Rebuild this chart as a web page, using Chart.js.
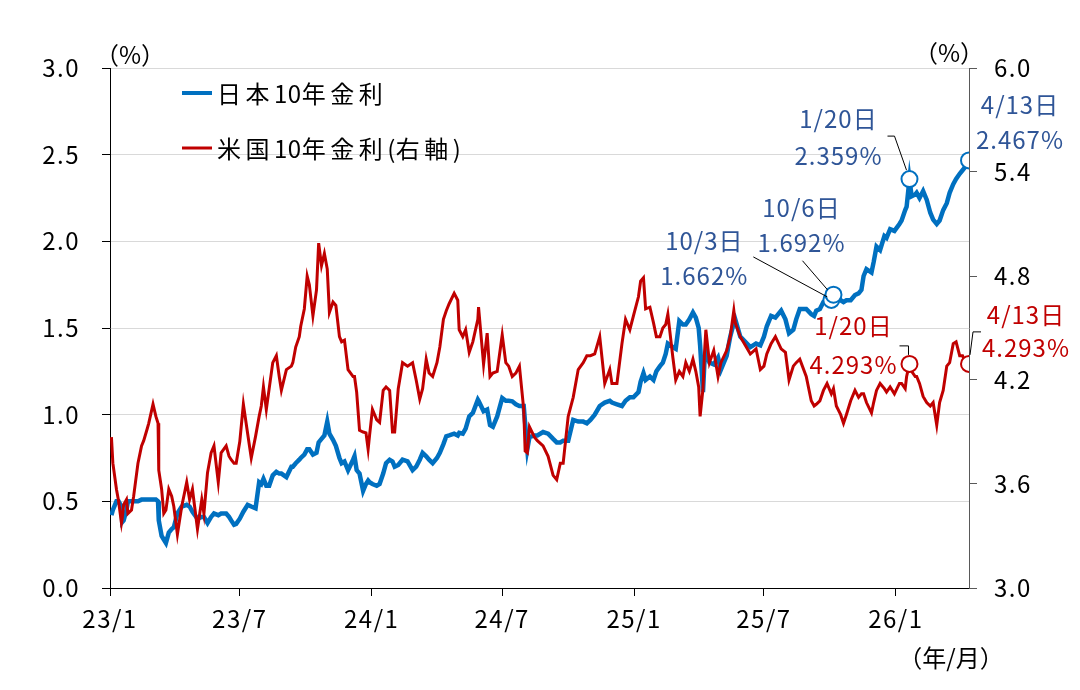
<!DOCTYPE html>
<html lang="ja">
<head>
<meta charset="utf-8">
<title>日米10年金利</title>
<script src="https://cdn.jsdelivr.net/npm/chart.js@4.4.1/dist/chart.umd.min.js"></script>
<style>
  html, body { margin: 0; padding: 0; background: #fff; }
  #wrap { width: 1080px; height: 690px; }
</style>
</head>
<body>
<div id="wrap"><canvas id="chart" width="1080" height="690"></canvas></div>
<script>
const dates = [
  '2023-01-03','2023-01-05','2023-01-10','2023-01-13','2023-01-17','2023-01-18','2023-01-20','2023-01-24','2023-01-26','2023-01-31',
  '2023-02-03','2023-02-06','2023-02-09','2023-02-14','2023-02-17','2023-02-22','2023-02-24','2023-03-02','2023-03-06','2023-03-09',
  '2023-03-10','2023-03-14','2023-03-17','2023-03-20','2023-03-24','2023-03-28','2023-03-31','2023-04-05','2023-04-11','2023-04-18',
  '2023-04-22','2023-04-26','2023-05-03','2023-05-09','2023-05-12','2023-05-17','2023-05-22','2023-05-26','2023-06-01','2023-06-05',
  '2023-06-12','2023-06-16','2023-06-19','2023-06-23','2023-06-26','2023-07-01','2023-07-06','2023-07-12','2023-07-17','2023-07-23',
  '2023-07-28','2023-07-31','2023-08-03','2023-08-07','2023-08-11','2023-08-16','2023-08-21','2023-08-25','2023-08-28','2023-09-04',
  '2023-09-11','2023-09-13','2023-09-17','2023-09-22','2023-09-24','2023-09-29','2023-10-03','2023-10-06','2023-10-11','2023-10-16',
  '2023-10-19','2023-10-23','2023-10-27','2023-10-31','2023-11-03','2023-11-08','2023-11-12','2023-11-17','2023-11-20','2023-11-24',
  '2023-11-29','2023-12-06','2023-12-08','2023-12-11','2023-12-15','2023-12-20','2023-12-24','2023-12-27','2023-12-29',
  '2024-01-02','2024-01-08','2024-01-12','2024-01-17','2024-01-21','2024-01-26','2024-01-30','2024-02-02','2024-02-07','2024-02-13',
  '2024-02-20','2024-02-27','2024-03-03','2024-03-08','2024-03-12','2024-03-17','2024-03-21','2024-03-26','2024-04-01','2024-04-05',
  '2024-04-10','2024-04-14','2024-04-18','2024-04-25','2024-04-30','2024-05-02','2024-05-07','2024-05-11','2024-05-16','2024-05-21',
  '2024-05-28','2024-05-29','2024-06-05','2024-06-10','2024-06-14','2024-06-18','2024-06-24','2024-07-01','2024-07-06','2024-07-10',
  '2024-07-15','2024-07-20','2024-07-25','2024-07-31','2024-08-02','2024-08-05','2024-08-08','2024-08-15','2024-08-19','2024-08-27',
  '2024-09-03','2024-09-10','2024-09-15','2024-09-20','2024-09-24','2024-10-01','2024-10-08','2024-10-15','2024-10-22','2024-10-27',
  '2024-11-01','2024-11-07','2024-11-14','2024-11-21','2024-11-28','2024-12-01','2024-12-08','2024-12-15','2024-12-20','2024-12-26',
  '2024-12-31',
  '2025-01-07','2025-01-10','2025-01-14','2025-01-17','2025-01-23','2025-01-28','2025-02-01','2025-02-06','2025-02-10','2025-02-14',
  '2025-02-17','2025-02-24','2025-02-28','2025-03-05','2025-03-10','2025-03-14','2025-03-19','2025-03-24','2025-03-28','2025-04-01',
  '2025-04-03','2025-04-07','2025-04-09','2025-04-11','2025-04-16','2025-04-22','2025-04-28','2025-05-02','2025-05-10','2025-05-15',
  '2025-05-20','2025-05-22','2025-05-29','2025-06-05','2025-06-12','2025-06-20','2025-06-26','2025-07-01','2025-07-05','2025-07-11',
  '2025-07-17','2025-07-25','2025-07-31','2025-08-05','2025-08-11','2025-08-15','2025-08-20','2025-08-29','2025-09-05','2025-09-09',
  '2025-09-12','2025-09-17','2025-09-22','2025-09-27','2025-10-03','2025-10-06','2025-10-10','2025-10-16','2025-10-20','2025-10-24',
  '2025-10-30','2025-11-05','2025-11-10','2025-11-14','2025-11-17','2025-11-21','2025-11-28','2025-12-01','2025-12-05','2025-12-10',
  '2025-12-16','2025-12-19','2025-12-24','2025-12-30',
  '2026-01-06','2026-01-09','2026-01-14','2026-01-16','2026-01-20','2026-01-23','2026-01-28','2026-01-30','2026-02-03','2026-02-08',
  '2026-02-13','2026-02-18','2026-02-22','2026-02-27','2026-03-03','2026-03-08','2026-03-13','2026-03-17','2026-03-22','2026-03-26',
  '2026-03-31','2026-04-04','2026-04-08','2026-04-13'
];

// 日本10年金利 (%), left axis
const jgb = [
  0.42,0.45,0.50,0.50,0.47,0.38,0.39,0.45,0.50,0.50,
  0.50,0.50,0.50,0.51,0.51,0.51,0.51,0.51,0.51,0.50,
  0.39,0.30,0.28,0.26,0.32,0.34,0.35,0.43,0.47,0.48,
  0.47,0.44,0.40,0.41,0.41,0.375,0.41,0.43,0.42,0.43,
  0.43,0.41,0.39,0.365,0.37,0.40,0.44,0.48,0.47,0.46,
  0.61,0.60,0.63,0.59,0.59,0.65,0.67,0.66,0.66,0.64,
  0.70,0.70,0.72,0.74,0.75,0.77,0.80,0.80,0.77,0.78,
  0.84,0.86,0.88,0.96,0.89,0.855,0.82,0.75,0.72,0.73,
  0.68,0.74,0.76,0.68,0.66,0.56,0.60,0.62,0.61,
  0.60,0.59,0.60,0.66,0.72,0.74,0.73,0.70,0.71,0.74,
  0.73,0.68,0.70,0.74,0.78,0.76,0.74,0.72,0.75,0.78,
  0.83,0.875,0.88,0.89,0.88,0.895,0.89,0.92,0.99,1.01,
  1.087,1.08,1.02,1.03,0.94,0.93,0.99,1.096,1.08,1.08,
  1.077,1.06,1.05,1.05,0.95,0.80,0.87,0.88,0.88,0.90,
  0.89,0.86,0.84,0.84,0.85,0.85,0.97,0.96,0.96,0.95,
  0.97,1.00,1.05,1.07,1.08,1.07,1.06,1.05,1.08,1.10,
  1.10,
  1.13,1.19,1.24,1.20,1.22,1.20,1.25,1.28,1.30,1.35,
  1.41,1.39,1.38,1.54,1.52,1.52,1.55,1.59,1.56,1.50,
  1.40,1.13,1.30,1.36,1.30,1.29,1.33,1.26,1.34,1.45,
  1.53,1.55,1.45,1.42,1.39,1.41,1.40,1.45,1.51,1.57,
  1.56,1.60,1.55,1.47,1.49,1.55,1.61,1.61,1.58,1.57,
  1.60,1.61,1.65,1.66,1.662,1.692,1.70,1.66,1.65,1.66,
  1.66,1.69,1.70,1.72,1.80,1.84,1.82,1.88,1.97,1.95,
  2.03,2.02,2.07,2.06,
  2.10,2.12,2.18,2.20,2.359,2.26,2.27,2.28,2.25,2.29,
  2.24,2.165,2.125,2.10,2.12,2.18,2.22,2.28,2.33,2.36,
  2.39,2.41,2.43,2.467
];

// 米国10年金利 (%), right axis
const ust = [
  3.87,3.72,3.57,3.50,3.375,3.40,3.48,3.51,3.43,3.45,
  3.53,3.625,3.72,3.82,3.85,3.92,3.95,4.06,3.99,3.95,
  3.68,3.57,3.43,3.45,3.57,3.53,3.47,3.31,3.47,3.61,
  3.51,3.57,3.34,3.51,3.43,3.665,3.78,3.82,3.61,3.78,
  3.82,3.76,3.74,3.72,3.72,3.845,4.06,3.89,3.75,3.875,
  3.99,4.05,4.16,4.03,4.15,4.30,4.34,4.22,4.14,4.26,
  4.28,4.30,4.39,4.45,4.51,4.61,4.80,4.75,4.57,4.72,
  4.99,4.86,4.93,4.84,4.59,4.65,4.63,4.45,4.42,4.43,
  4.26,4.22,4.22,4.13,3.91,3.90,3.895,3.80,3.88,
  4.03,3.97,3.955,4.14,4.16,4.14,3.90,3.90,4.15,4.30,
  4.28,4.30,4.20,4.09,4.15,4.32,4.24,4.22,4.30,4.39,
  4.55,4.60,4.64,4.70,4.66,4.49,4.45,4.49,4.36,4.42,
  4.55,4.62,4.29,4.47,4.22,4.24,4.25,4.46,4.30,4.28,
  4.22,4.24,4.28,4.03,3.79,3.78,3.93,3.87,3.85,3.82,
  3.76,3.65,3.625,3.72,3.72,3.99,4.10,4.26,4.30,4.34,
  4.34,4.35,4.45,4.18,4.26,4.18,4.18,4.41,4.55,4.49,
  4.57,
  4.68,4.77,4.79,4.61,4.62,4.53,4.45,4.45,4.50,4.52,
  4.58,4.33,4.20,4.25,4.22,4.30,4.25,4.32,4.25,4.16,
  3.99,4.15,4.35,4.49,4.30,4.37,4.22,4.30,4.37,4.45,
  4.60,4.53,4.45,4.40,4.35,4.38,4.26,4.28,4.35,4.41,
  4.45,4.38,4.36,4.20,4.28,4.30,4.32,4.22,4.08,4.05,
  4.06,4.08,4.14,4.18,4.12,4.15,4.05,4.00,3.95,4.00,
  4.08,4.14,4.10,4.12,4.12,4.07,4.01,4.07,4.14,4.18,
  4.15,4.13,4.16,4.12,
  4.18,4.18,4.15,4.22,4.293,4.25,4.22,4.22,4.18,4.105,
  4.07,4.05,4.07,3.94,4.07,4.14,4.28,4.30,4.41,4.42,
  4.34,4.34,4.30,4.293
];

const startDate = '2023-01-01';
const endDate = '2026-04-13';
const tickDates = ['2023-01-01','2023-07-01','2024-01-01','2024-07-01','2025-01-01','2025-07-01','2026-01-01'];
const tickLabels = ['23/1','23/7','24/1','24/7','25/1','25/7','26/1'];
const leftTicks = [0, 0.5, 1.0, 1.5, 2.0, 2.5, 3.0];
const rightTicks = [3.0, 3.6, 4.2, 4.8, 5.4, 6.0];

// marked points
const jpMarkDates = ['2025-10-03', '2025-10-06', '2026-01-20', '2026-04-13'];
const jpMarkValues = [1.662, 1.692, 2.359, 2.467];
const usMarkDates = ['2026-01-20', '2026-04-13'];
const usMarkValues = [4.293, 4.293];

const BLUE = '#0070C0';
const RED = '#C00000';
const BLUE_TEXT = '#2F5597';
const RED_TEXT = '#C00000';
const FONT = '"Noto Sans CJK JP", "Noto Sans", sans-serif';

const t0 = Date.parse(startDate + 'T00:00:00Z');
const dayOf = d => Math.round((Date.parse(d + 'T00:00:00Z') - t0) / 86400000);
const dayLabel = d => { const p = d.split('-'); return (+p[1]) + '/' + (+p[2]) + '日'; };

const jpData = dates.map((d, i) => ({ x: dayOf(d), y: jgb[i] }));
const usData = dates.map((d, i) => ({ x: dayOf(d), y: ust[i] }));
const jpMarks = jpMarkDates.map((d, i) => ({ x: dayOf(d), y: jpMarkValues[i] }));
const usMarks = usMarkDates.map((d, i) => ({ x: dayOf(d), y: usMarkValues[i] }));

// text boxes next to the marked points; offsets are relative to the circle
const notes = [
  { axis: 'y',  date: jpMarkDates[3], value: jpMarkValues[3], color: BLUE_TEXT, dx: 51,   dy: [-56, -21], leader: null },
  { axis: 'y',  date: jpMarkDates[2], value: jpMarkValues[2], color: BLUE_TEXT, dx: -71,  dy: [-60, -23], leader: [[-22, -43], [-15, -43], [-3, -9]] },
  { axis: 'y',  date: jpMarkDates[1], value: jpMarkValues[1], color: BLUE_TEXT, dx: -32,  dy: [-87, -52], leader: [[-31, -34], [-6, -5]] },
  { axis: 'y',  date: jpMarkDates[0], value: jpMarkValues[0], color: BLUE_TEXT, dx: -127, dy: [-59, -24], leader: [[-78, -43], [-4, -3]] },
  { axis: 'y2', date: usMarkDates[0], value: usMarkValues[0], color: RED_TEXT,  dx: -56,  dy: [-38, 1],   leader: [[-10, -18], [-1, -18], [-1, -9]] },
  { axis: 'y2', date: usMarkDates[1], value: usMarkValues[1], color: RED_TEXT,  dx: 57,   dy: [-49, -16], leader: [[12, -32], [4, -32], [1, -9]] }
];

const legendItems = [
  { text: '日本10年金利', color: BLUE, width: 4 },
  { text: '米国10年金利(右軸)', color: RED, width: 3 }
];

// wide gaps after kana/kanji, tight digits, like the original legend
function spacedText(ctx, text, x, y) {
  let cx = x;
  for (const ch of text) {
    ctx.fillText(ch, cx, y);
    cx += ctx.measureText(ch).width + (ch.charCodeAt(0) > 0x2e80 ? 4.5 : 0.5);
  }
}

const extras = {
  id: 'extras',
  beforeDraw(chart) { chart.ctx.letterSpacing = '1.5px'; },
  afterDraw(chart) {
    const ctx = chart.ctx;
    const area = chart.chartArea;
    const xs = chart.scales.x;
    ctx.save();
    ctx.letterSpacing = '0px';
    ctx.font = '24px ' + FONT;
    ctx.textBaseline = 'middle';

    // unit labels
    ctx.fillStyle = '#000';
    ctx.textAlign = 'center';
    ctx.fillText('（%）', area.left + 20, area.top - 13);
    ctx.fillText('（%）', area.right - 20, area.top - 15);
    ctx.fillText('（年/月）', area.right - 18, area.bottom + 70);

    // legend
    legendItems.forEach((it, i) => {
      const y = area.top + 25 + i * 55;
      ctx.strokeStyle = it.color;
      ctx.lineWidth = it.width;
      ctx.beginPath();
      ctx.moveTo(area.left + 72, y);
      ctx.lineTo(area.left + 102, y);
      ctx.stroke();
      ctx.fillStyle = '#000';
      ctx.textAlign = 'left';
      spacedText(ctx, it.text, area.left + 107, y + 1);
    });

    // annotations
    ctx.letterSpacing = '1px';
    notes.forEach(n => {
      const px = xs.getPixelForValue(dayOf(n.date));
      const py = chart.scales[n.axis].getPixelForValue(n.value);
      if (n.leader) {
        ctx.strokeStyle = '#000';
        ctx.lineWidth = 1;
        ctx.beginPath();
        n.leader.forEach((p, k) => {
          if (k === 0) ctx.moveTo(px + p[0], py + p[1]);
          else ctx.lineTo(px + p[0], py + p[1]);
        });
        ctx.stroke();
      }
      ctx.fillStyle = n.color;
      ctx.textAlign = 'center';
      ctx.fillText(dayLabel(n.date), px + n.dx, py + n.dy[0]);
      ctx.fillText(n.value.toFixed(3) + '%', px + n.dx, py + n.dy[1]);
    });
    ctx.restore();
    ctx.letterSpacing = '0px';
  }
};

new Chart(document.getElementById('chart'), {
  type: 'line',
  data: {
    datasets: [
      { label: '日本10年金利', data: jpData, yAxisID: 'y', borderColor: BLUE, borderWidth: 4.5, pointRadius: 0, tension: 0, order: 2 },
      { label: '米国10年金利(右軸)', data: usData, yAxisID: 'y2', borderColor: RED, borderWidth: 3, pointRadius: 0, tension: 0, order: 1 },
      { label: 'jp marks', data: jpMarks, yAxisID: 'y', showLine: false, pointRadius: 8, pointBorderWidth: 2,
        pointBackgroundColor: '#fff', borderColor: BLUE, pointBorderColor: BLUE, order: 0 },
      { label: 'us marks', data: usMarks, yAxisID: 'y2', showLine: false, pointRadius: 8, pointBorderWidth: 2,
        pointBackgroundColor: '#fff', borderColor: RED, pointBorderColor: RED, order: 0 }
    ]
  },
  options: {
    responsive: false,
    animation: false,
    devicePixelRatio: 1,
    layout: { padding: { top: 68, left: 0, right: 0, bottom: 0 } },
    plugins: { legend: { display: false }, tooltip: { enabled: false } },
    scales: {
      x: {
        type: 'linear',
        min: 0,
        max: dayOf(endDate),
        afterBuildTicks: s => { s.ticks = tickDates.map(d => ({ value: dayOf(d) })); },
        afterFit: s => { s.height = 102; },
        ticks: {
          autoSkip: false, maxRotation: 0, padding: 8, color: '#000',
          font: { family: FONT, size: 24 },
          callback: v => tickLabels[tickDates.map(dayOf).indexOf(v)]
        },
        grid: { drawOnChartArea: false, drawTicks: true, tickLength: 8, tickColor: '#000' },
        border: { color: '#000', width: 1 }
      },
      y: {
        position: 'left',
        min: 0,
        max: 3,
        afterBuildTicks: s => { s.ticks = leftTicks.map(v => ({ value: v })); },
        afterFit: s => { s.width = 110; },
        ticks: { padding: 22, color: '#000', font: { family: FONT, size: 24 }, callback: v => v.toFixed(1) },
        grid: { color: '#D9D9D9', lineWidth: 1, tickColor: '#000', tickLength: 8 },
        border: { color: '#000', width: 1 }
      },
      y2: {
        position: 'right',
        min: 3,
        max: 6,
        afterBuildTicks: s => { s.ticks = rightTicks.map(v => ({ value: v })); },
        afterFit: s => { s.width = 111; },
        ticks: { padding: 17, color: '#000', font: { family: FONT, size: 24 }, callback: v => v.toFixed(1) },
        grid: { drawOnChartArea: false, tickColor: '#595959', tickLength: 8 },
        border: { color: '#595959', width: 1 }
      }
    }
  },
  plugins: [extras]
});
</script>
</body>
</html>
